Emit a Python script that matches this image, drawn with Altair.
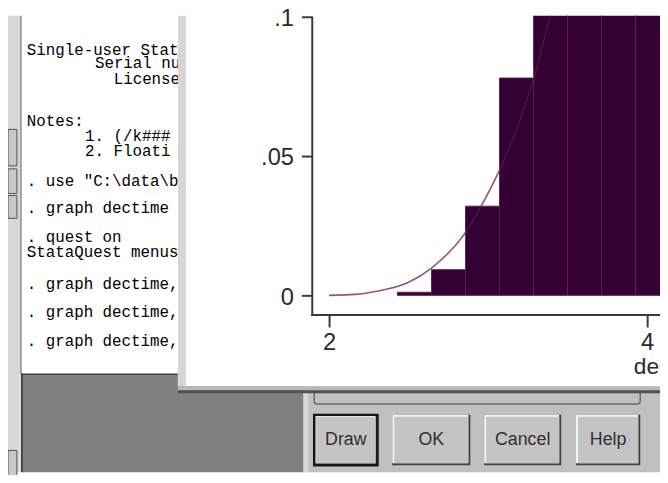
import altair as alt
import pandas as pd

# ---------------- data ----------------
# histogram of dectime (fraction per bin); bars right of 3.29 are cut by the window top
bin_start = [2.43, 2.644, 2.858, 3.072, 3.286, 3.500, 3.714, 3.928]
bin_end = [2.644, 2.858, 3.072, 3.286, 3.500, 3.714, 3.928, 4.142]
bin_frac = [0.0011, 0.0092, 0.032, 0.078, 0.118, 0.145, 0.160, 0.170]

# normal density overlay
curve_x = [2.0, 2.168, 2.292, 2.497, 2.646, 2.851, 2.975, 3.081, 3.286, 3.391, 3.50]
curve_y = [0.0, 0.00035, 0.0014, 0.0046, 0.0099, 0.0220, 0.0340, 0.0461, 0.0777, 0.1004, 0.122]

x_ticks = [2, 4]
y_ticks = [0, 0.05, 0.1]
x_title = "dectime"

# visible part of the Stata Results window (the rest is hidden by the graph window)
results_lines = [
    "Single-user Stat",
    "Serial nu",
    "License",
    "Notes:",
    "1.  (/k###",
    "2.  Floati",
    '. use "C:\\data\\b',
    ". graph dectime",
    ". quest on",
    "StataQuest menus",
    ". graph dectime,",
    ". graph dectime,",
    ". graph dectime,",
]
button_labels = ["Draw", "OK", "Cancel", "Help"]

# ---------------- layout / style (pixels in plot space) ----------------
W, H = 660, 462
results_x = [19, 88, 107, 19, 78, 78, 19, 19, 19, 19, 19, 19, 19]
results_y = [40, 53, 69, 112, 127, 142, 172, 200, 229, 244, 277, 305, 334]
buttons_px = [(310, 374), (389, 468), (482, 560), (575, 640)]
btn_y1, btn_y2 = 404, 455

LABEL_FONT = "Liberation Sans, Arial, sans-serif"
AXIS_COLOR = "#3a3a3a"

one = alt.Data(values=[{"k": 1}])


def box(x, x2, y, y2, fill, stroke=None, sw=0, r=0, fill_opacity=1):
    kw = dict(fill=fill, fillOpacity=fill_opacity)
    if stroke:
        kw.update(stroke=stroke, strokeWidth=sw)
    if r:
        kw["cornerRadius"] = r
    return alt.Chart(one).mark_rect(**kw).encode(
        x=alt.value(x), x2=alt.value(x2), y=alt.value(y), y2=alt.value(y2)
    )


def label(txt, x, y, font, size, color="#000000", align="left", weight="normal"):
    return alt.Chart(one).mark_text(
        text=txt, font=font, fontSize=size, color=color, align=align,
        baseline="alphabetic", fontWeight=weight
    ).encode(x=alt.value(x), y=alt.value(y))


layers = []

# --- left frame strip of the Results window
layers.append(box(0, 12, 0, H, "#d8d8d8"))
for (a, b) in [(115, 152), (155, 180), (182, 205), (440, 467)]:
    layers.append(box(0, 9, a, b, "#c8c8c8", "#505050", 1))
layers.append(box(12, 14, 0, 363, "#a0a0a0"))

# --- gray workspace under the Results window
layers.append(box(14, 300, 364, H, "#808080"))
layers.append(box(13, 15, 362, H, "#404040"))

# --- dialog with buttons
layers.append(box(299, W, 375, H, "#c0c0c0"))
layers.append(box(299, 304, 375, H, "#d8d8d8"))
layers.append(box(310, 640, 360, 393, "#c0c0c0", "#6a6a6a", 1.5, 3, fill_opacity=0))
for i, (a, b) in enumerate(buttons_px):
    layers.append(box(a, b, btn_y1, btn_y2, "#404040"))
    layers.append(box(a, b - 2, btn_y1, btn_y2 - 2, "#f4f4f4"))
    layers.append(box(a + 2, b - 2, btn_y1 + 2, btn_y2 - 2, "#c4c4c4"))
    if i == 0:
        layers.append(box(a, b, btn_y1, btn_y2, "#c4c4c4", "#151515", 2.5, fill_opacity=0))
    layers.append(label(button_labels[i], (a + b) / 2, 435, "Liberation Sans, Arial, sans-serif", 18,
                        "#303030", "center"))

# --- Results window text
for t, x, y in zip(results_lines, results_x, results_y):
    layers.append(label(t, x, y, "Liberation Mono, Courier New, monospace", 16, "#000000"))
layers.append(box(14, 173, 362, 364, "#404040"))

# --- graph window
layers.append(box(172, W, 0, 375, "#ffffff"))
layers.append(box(172, 180, 0, 375, "#d6d6d6"))
layers.append(box(172, W, 375, 379, "#b8b8b8"))
layers.append(box(172, W, 379, 382, "#505050"))

# --- the histogram itself
X_SCALE = alt.Scale(domain=[-0.018634, 4.080745], nice=False, zero=False)
Y_SCALE = alt.Scale(domain=[-0.063475, 0.100355], nice=False, zero=False)

X_AXIS = alt.Axis(
    values=x_ticks, title=x_title, offset=-159, domain=False, grid=False,
    tickSize=12, tickWidth=2, tickColor=AXIS_COLOR,
    labelFont=LABEL_FONT, labelFontSize=24, labelColor="#2a2a2a", labelPadding=4,
    labelFlush=False, labelOverlap=False,
    titleX=633, titleY=59, titleAlign="left", titleBaseline="alphabetic",
    titleFont=LABEL_FONT, titleFontSize=23, titleFontWeight="normal", titleColor="#2a2a2a",
    zindex=1,
)
Y_AXIS = alt.Axis(
    values=y_ticks, title="", offset=-308, domain=False, grid=False,
    tickSize=11, tickWidth=2, tickColor=AXIS_COLOR,
    labelFont=LABEL_FONT, labelFontSize=24, labelColor="#2a2a2a", labelPadding=8,
    labelOffset=2, labelOverlap=False, labelFlush=False,
    labelExpr="datum.value == 0 ? '0' : slice(format(datum.value, '.2~f'), 1)",
    zindex=1,
)

curve_df = pd.DataFrame({"x": curve_x, "y": curve_y})
bars_df = pd.DataFrame({"x": bin_start, "x2": bin_end, "y": bin_frac})

curve_under = alt.Chart(curve_df).mark_line(
    color="#8e5a8e", strokeWidth=1.6, clip=True, interpolate="monotone"
).encode(
    x=alt.X("x:Q", scale=X_SCALE, axis=X_AXIS),
    y=alt.Y("y:Q", scale=Y_SCALE, axis=Y_AXIS),
)
bars = alt.Chart(bars_df).mark_rect(
    fill="#340034", stroke="#5c205c", strokeWidth=1, clip=True
).encode(
    x=alt.X("x:Q", scale=X_SCALE, axis=X_AXIS),
    x2="x2",
    y=alt.Y("y:Q", scale=Y_SCALE, axis=Y_AXIS),
    y2=alt.datum(0),
)
curve_over = alt.Chart(curve_df).mark_line(
    color="#8e5a8e", strokeWidth=1.2, opacity=0.3, clip=True, interpolate="monotone"
).encode(
    x=alt.X("x:Q", scale=X_SCALE, axis=X_AXIS),
    y=alt.Y("y:Q", scale=Y_SCALE, axis=Y_AXIS),
)
layers += [curve_under, bars, curve_over]

# axis frame lines
layers.append(alt.Chart(one).mark_rule(color=AXIS_COLOR, strokeWidth=2).encode(
    x=alt.value(308), y=alt.value(1), y2=alt.value(304)))
layers.append(alt.Chart(one).mark_rule(color=AXIS_COLOR, strokeWidth=2).encode(
    x=alt.value(307), x2=alt.value(W), y=alt.value(303)))

chart = alt.layer(*layers).properties(
    width=W, height=H,
    autosize=alt.AutoSizeParams(type="none"),
    padding={"left": 0, "top": 5, "right": 0, "bottom": 0},
    background="#ffffff",
).configure_view(strokeWidth=0)

chart.save("out.html", embed_options={"renderer": "svg", "actions": False})
